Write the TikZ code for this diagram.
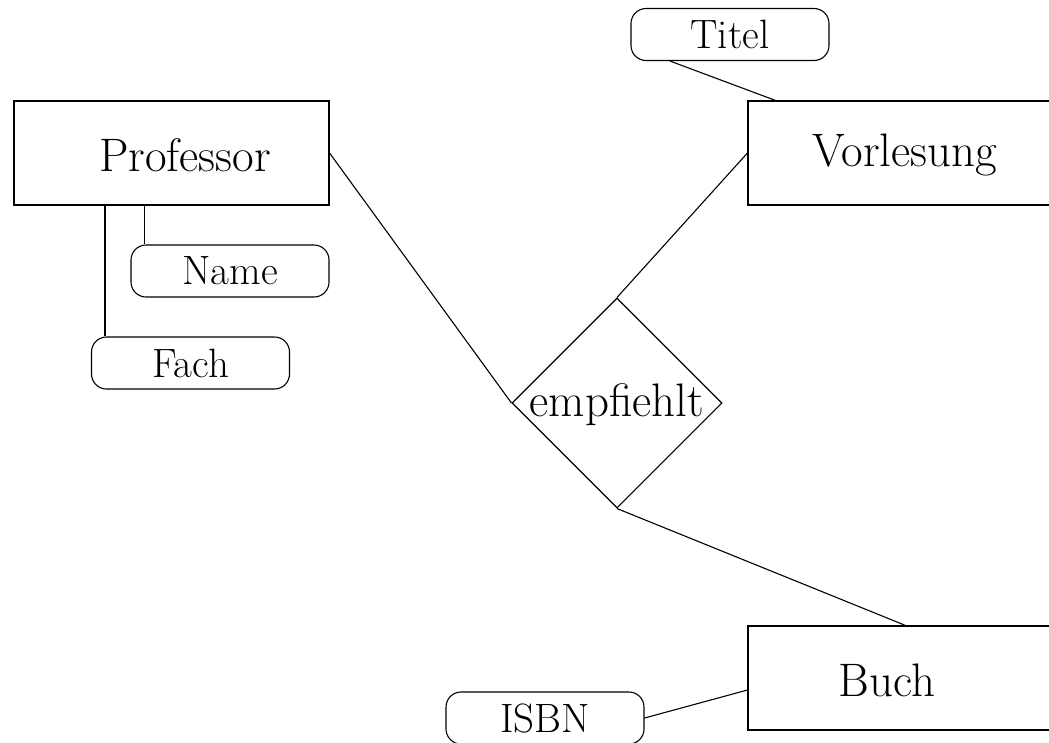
\documentclass[tikz,border=0pt]{standalone}
\usepackage{fontspec}
\usetikzlibrary{shapes.geometric}
\begin{document}
\begin{tikzpicture}[x=1pt,y=1pt,line width=1.1pt,
  entity/.style={draw,rectangle,minimum width=315pt,minimum height=104pt,inner sep=0pt},
  attr/.style={draw,rounded corners=15pt,minimum width=198pt,minimum height=52pt,inner sep=0pt,font=\fontsize{41}{44}\selectfont},
  rel/.style={draw,diamond,minimum width=210pt,minimum height=210pt,inner sep=0pt},
  big/.style={font=\fontsize{47}{52}\selectfont}]
\useasboundingbox (0,0) rectangle (1049,-742);
\clip (0,0) rectangle (1049,-742);
\node[entity] (prof) at (171.5,-153) {};
\node[big] (proft) at (185,-155) {Professor};
\node[entity] (vorl) at (905.5,-153) {};
\node[big] (vorlt) at (905,-155) {Vorlesung};
\node[entity] (buch) at (905.5,-678) {};
\node[big] (bucht) at (887,-680) {Buch};
\node[rel] (emp) at (617,-403) {};
\node[big] (empt) at (617,-405) {empfiehlt};
\node[attr] (name) at (230,-271) {Name};
\node[attr] (fach) at (190.5,-363) {Fach};
\node[attr] (titel) at (730,-34.5) {Titel};
\node[attr] (isbn) at (545,-718) {ISBN};
\draw (prof.east) -- (emp.west);
\draw (vorl.west) -- (emp.north);
\draw (emp.south) -- (buch.north);
\draw ([xshift=-60pt]titel.south) -- ([xshift=-130pt]vorl.north);
\draw ([xshift=14pt]name.north west) -- ([xshift=14pt]name.north west |- prof.south);
\draw ([xshift=14pt]fach.north west) -- ([xshift=14pt]fach.north west |- prof.south);
\draw (isbn.east) -- ([yshift=-12pt]buch.west);
\end{tikzpicture}
\end{document}
